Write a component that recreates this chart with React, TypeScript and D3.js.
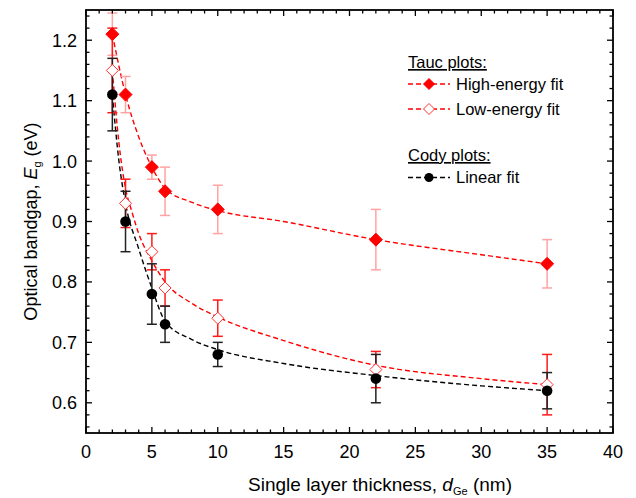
import React from "react";
import * as d3 from "d3";

// ---- data ----
const thickness = [2, 3, 5, 6, 10, 22, 35];
const highEnergy = [1.21, 1.11, 0.99, 0.95, 0.92, 0.87, 0.83];
const highEnergyErr = [0.035, 0.03, 0.02, 0.04, 0.04, 0.05, 0.04];
const lowEnergy = [1.15, 0.93, 0.85, 0.79, 0.74, 0.655, 0.63];
const lowEnergyErr = [0.07, 0.04, 0.03, 0.03, 0.03, 0.03, 0.05];
const cody = [1.11, 0.9, 0.78, 0.73, 0.68, 0.64, 0.62];
const codyErr = [0.06, 0.05, 0.05, 0.03, 0.02, 0.04, 0.03];

// fitted curves
const highFitX = [2, 3, 4, 5, 6, 8, 10, 15, 22, 30, 35];
const highFitY = [1.21, 1.11, 1.04, 0.99, 0.955, 0.932, 0.918, 0.9, 0.87, 0.845, 0.83];
const lowFitX = [2, 2.5, 3, 3.5, 4, 5, 6, 8, 10, 15, 22, 30, 35];
const lowFitY = [1.15, 1.03, 0.955, 0.915, 0.88, 0.835, 0.8, 0.765, 0.742, 0.703, 0.662, 0.64, 0.63];
const codyFitX = [2, 2.5, 3, 4, 5, 6, 8, 10, 15, 22, 30, 35];
const codyFitY = [1.11, 1.0, 0.93, 0.855, 0.79, 0.735, 0.705, 0.688, 0.665, 0.645, 0.628, 0.62];

const xMajor = [0, 5, 10, 15, 20, 25, 30, 35, 40];
const yMajor = [0.6, 0.7, 0.8, 0.9, 1.0, 1.1, 1.2];

const W = 636, H = 498;
const L = 86, R = 613, T = 10, B = 433;
const FONT = "'Liberation Sans', Arial, Helvetica, sans-serif";

export default function App() {
  const x = d3.scaleLinear().domain([0, 40]).range([L, R]);
  const y = d3.scaleLinear().domain([0.55, 1.25]).range([B, T]);

  const xMinor = d3.range(0, 41, 1).filter((v) => v % 5 !== 0);
  const yMinor = d3.range(56, 125, 2).map((v) => v / 100).filter((v) => Math.round(v * 100) % 10 !== 0);

  const line = d3
    .line<[number, number]>()
    .x((d) => x(d[0]))
    .y((d) => y(d[1]))
    .curve(d3.curveMonotoneX);

  const fit = (xs: number[], ys: number[]) => line(xs.map((v, i) => [v, ys[i]] as [number, number])) || "";

  const diamond = (cx: number, cy: number, s: number) =>
    `M${cx},${cy - s}L${cx + s},${cy}L${cx},${cy + s}L${cx - s},${cy}Z`;

  const errBars = (vals: number[], errs: number[], color: string, key: string) =>
    thickness.map((t, i) => {
      const cx = x(t);
      const y1 = y(vals[i] + errs[i]);
      const y2 = y(vals[i] - errs[i]);
      return (
        <g key={key + i} stroke={color} strokeWidth={1.5}>
          <line x1={cx} x2={cx} y1={y1} y2={y2} />
          <line x1={cx - 5} x2={cx + 5} y1={y1} y2={y1} />
          <line x1={cx - 5} x2={cx + 5} y1={y2} y2={y2} />
        </g>
      );
    });

  const tickLen = 6, minorLen = 3.5;

  return (
    <svg width={W} height={H} style={{ position: "absolute", left: 0, top: 0, background: "#fff" }} fontFamily={FONT}>
      <rect x={0} y={0} width={W} height={H} fill="#fff" />
      {/* fit curves */}
      <path d={fit(highFitX, highFitY)} fill="none" stroke="#ff0000" strokeWidth={1.4} strokeDasharray="5,3" />
      <path d={fit(lowFitX, lowFitY)} fill="none" stroke="#ff0000" strokeWidth={1.4} strokeDasharray="5,3" />
      <path d={fit(codyFitX, codyFitY)} fill="none" stroke="#000" strokeWidth={1.4} strokeDasharray="5,3" />

      {/* error bars */}
      {errBars(highEnergy, highEnergyErr, "#ffa3a3", "he")}
      {errBars(lowEnergy, lowEnergyErr, "#ff1a1a", "le")}
      {errBars(cody, codyErr, "#222", "cd")}

      {/* markers */}
      {thickness.map((t, i) => (
        <path key={"hm" + i} d={diamond(x(t), y(highEnergy[i]), 6.5)} fill="#ff0000" stroke="#ff0000" strokeWidth={1} />
      ))}
      {thickness.map((t, i) => (
        <path key={"lm" + i} d={diamond(x(t), y(lowEnergy[i]), 6)} fill="#fff" stroke="#ff3030" strokeWidth={1} />
      ))}
      {thickness.map((t, i) => (
        <circle key={"cm" + i} cx={x(t)} cy={y(cody[i])} r={5.3} fill="#000" />
      ))}

      {/* axes frame & ticks */}
      <g stroke="#000" strokeWidth={1.3}>
        {xMajor.map((v) => (
          <g key={"xM" + v}>
            <line x1={x(v)} x2={x(v)} y1={B} y2={B - tickLen} />
            <line x1={x(v)} x2={x(v)} y1={T} y2={T + tickLen} />
          </g>
        ))}
        {xMinor.map((v) => (
          <g key={"xm" + v}>
            <line x1={x(v)} x2={x(v)} y1={B} y2={B - minorLen} />
            <line x1={x(v)} x2={x(v)} y1={T} y2={T + minorLen} />
          </g>
        ))}
        {yMajor.map((v) => (
          <g key={"yM" + v}>
            <line x1={L} x2={L + tickLen} y1={y(v)} y2={y(v)} />
            <line x1={R} x2={R - tickLen} y1={y(v)} y2={y(v)} />
          </g>
        ))}
        {yMinor.map((v) => (
          <g key={"ym" + v}>
            <line x1={L} x2={L + minorLen} y1={y(v)} y2={y(v)} />
            <line x1={R} x2={R - minorLen} y1={y(v)} y2={y(v)} />
          </g>
        ))}
      </g>
      <rect x={L} y={T} width={R - L} height={B - T} fill="none" stroke="#000" strokeWidth={1.8} />

      {/* tick labels */}
      {xMajor.map((v) => (
        <text key={"xl" + v} x={x(v)} y={B + 25} fontSize={18} textAnchor="middle" fill="#000">
          {v}
        </text>
      ))}
      {yMajor.map((v) => (
        <text key={"yl" + v} x={L - 9} y={y(v) + 6.5} fontSize={18} textAnchor="end" fill="#000">
          {v.toFixed(1)}
        </text>
      ))}

      {/* axis titles */}
      <text x={380} y={491} fontSize={19} textAnchor="middle" fill="#000">
        Single layer thickness, <tspan fontStyle="italic">d</tspan>
        <tspan fontSize={11} dy={4}>Ge</tspan>
        <tspan dy={-4}> (nm)</tspan>
      </text>
      <text transform={`translate(37,${(T + B) / 2}) rotate(-90)`} fontSize={18} textAnchor="middle" fill="#000">
        Optical bandgap, <tspan fontStyle="italic">E</tspan>
        <tspan fontSize={11} dy={4}>g</tspan>
        <tspan dy={-4}> (eV)</tspan>
      </text>

      {/* legend */}
      <g fontSize={16.5} fill="#000">
        <text x={408} y={68} textDecoration="underline">Tauc plots:</text>
        <line x1={408} x2={450} y1={84} y2={84} stroke="#ff0000" strokeWidth={1.4} strokeDasharray="5,3" />
        <path d={diamond(429, 84, 5.5)} fill="#ff0000" stroke="#ff0000" />
        <text x={456} y={90}>High-energy fit</text>
        <line x1={408} x2={450} y1={109} y2={109} stroke="#ff0000" strokeWidth={1.4} strokeDasharray="5,3" />
        <path d={diamond(429, 109, 5.5)} fill="#fff" stroke="#ff3030" />
        <text x={456} y={115}>Low-energy fit</text>
        <text x={408} y={161} textDecoration="underline">Cody plots:</text>
        <line x1={408} x2={450} y1={177.5} y2={177.5} stroke="#000" strokeWidth={1.4} strokeDasharray="5,3" />
        <circle cx={429} cy={177.5} r={4.5} fill="#000" />
        <text x={456} y={183}>Linear fit</text>
      </g>
    </svg>
  );
}
